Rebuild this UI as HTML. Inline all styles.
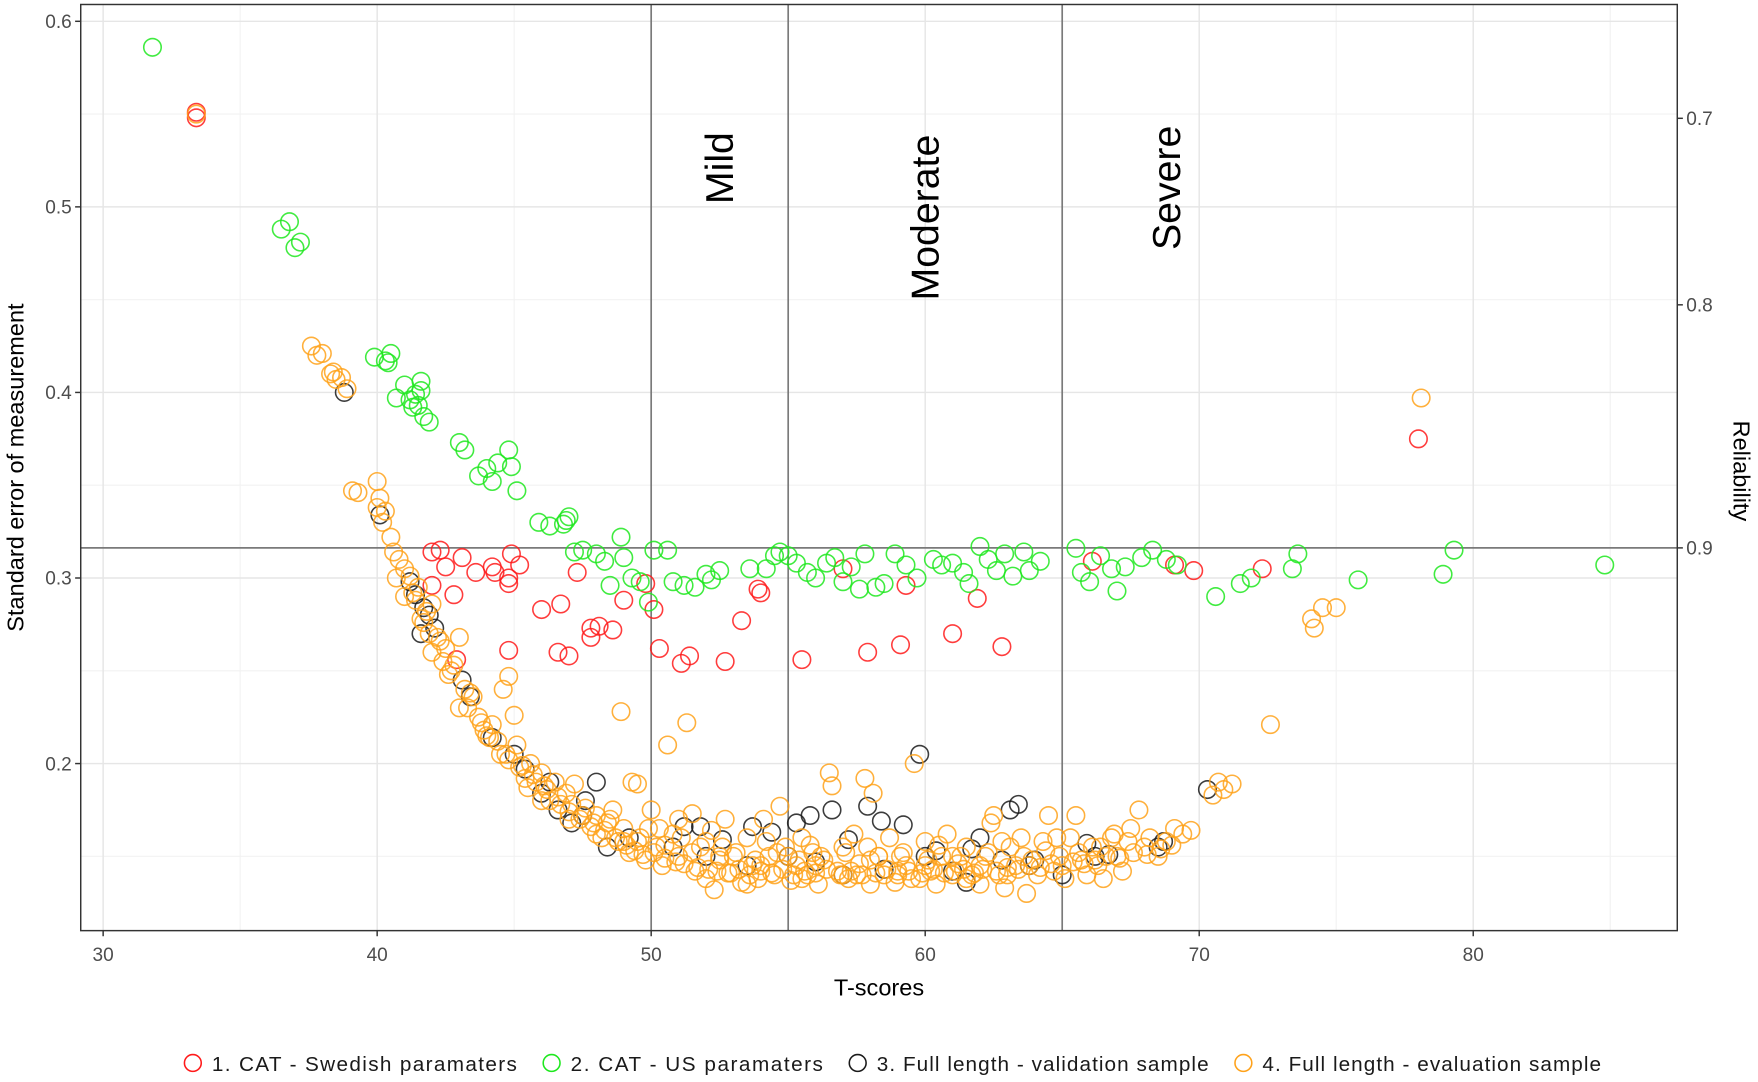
<!DOCTYPE html>
<html><head><meta charset="utf-8"><style>
html,body{margin:0;padding:0;background:#fff;}
svg{display:block;font-family:"Liberation Sans",Arial,sans-serif;}
</style></head><body>
<svg id="chart" width="1758" height="1082" viewBox="0 0 1568 965" preserveAspectRatio="none" xmlns="http://www.w3.org/2000/svg">
<rect x="0" y="0" width="1568" height="965" fill="#fff"/>
<g id="grid"></g>
<g id="refs"></g>
<g id="pts"></g>
<g id="axes"></g>
</svg>
<script>
const xTicks=[30,40,50,60,70,80];
const xMinor=[35,45,55,65,75,85];
const yTicks=[0.2,0.3,0.4,0.5,0.6];
const yMinor=[0.15,0.25,0.35,0.45,0.55];
const relTicks=[0.7,0.8,0.9];
const severityCuts=[50,55,65];
const severityNames=["Mild","Moderate","Severe"];
const severityPos=[52.5,60,68.8];
const relLine=0.9;
const redX=[33.4,33.4,42.0,42.3,42.5,42.0,42.8,43.1,43.6,44.2,44.3,44.8,44.9,45.2,44.8,42.9,44.8,46.0,46.7,46.6,47.0,47.3,47.8,47.8,48.1,48.6,49.0,49.8,50.1,50.3,51.1,51.4,52.7,53.3,53.9,54.0,55.5,57.0,57.9,59.1,59.3,61.0,61.9,62.8,66.1,69.1,69.8,72.3,78.0];
const redY=[0.548,0.551,0.314,0.315,0.306,0.296,0.291,0.311,0.303,0.306,0.303,0.300,0.313,0.307,0.297,0.256,0.261,0.283,0.286,0.260,0.258,0.303,0.273,0.268,0.274,0.272,0.288,0.297,0.283,0.262,0.254,0.258,0.255,0.277,0.294,0.292,0.256,0.305,0.260,0.264,0.296,0.270,0.289,0.263,0.309,0.307,0.304,0.305,0.375];
const greenX=[31.8,36.5,36.8,37.0,37.2,39.9,40.3,40.5,40.4,40.7,41.0,41.2,41.4,41.5,41.6,41.7,41.6,41.9,41.3,43.0,43.2,43.7,44.0,44.2,44.4,44.8,44.9,45.1,45.9,46.3,46.8,47.0,46.9,47.2,47.5,48.0,48.3,48.5,48.9,49.0,49.3,49.6,49.9,50.1,50.6,50.8,51.2,51.6,52.0,52.2,52.5,53.6,54.2,54.5,54.7,55.0,55.3,55.7,56.0,56.4,56.7,57.0,57.3,57.6,57.8,58.2,58.5,58.9,59.3,59.7,60.3,60.6,61.0,61.4,61.6,62.0,62.3,62.6,62.9,63.2,63.6,63.8,64.2,65.5,65.7,66.0,66.4,66.8,67.0,67.3,67.9,68.3,68.8,69.2,70.6,71.5,71.9,73.4,73.6,75.8,78.9,79.3,84.8];
const greenY=[0.586,0.488,0.492,0.478,0.481,0.419,0.417,0.421,0.416,0.397,0.404,0.396,0.399,0.393,0.406,0.387,0.401,0.384,0.392,0.373,0.369,0.355,0.359,0.352,0.362,0.369,0.360,0.347,0.330,0.328,0.329,0.333,0.331,0.314,0.315,0.313,0.309,0.296,0.322,0.311,0.300,0.298,0.287,0.315,0.315,0.298,0.296,0.295,0.302,0.299,0.304,0.305,0.305,0.312,0.314,0.312,0.308,0.303,0.300,0.308,0.311,0.298,0.306,0.294,0.313,0.295,0.297,0.313,0.307,0.300,0.310,0.307,0.308,0.303,0.297,0.317,0.310,0.304,0.313,0.301,0.314,0.304,0.309,0.316,0.303,0.298,0.312,0.305,0.293,0.306,0.311,0.315,0.310,0.307,0.290,0.297,0.300,0.305,0.313,0.299,0.302,0.315,0.307];
const blackX=[38.8,40.1,41.2,41.4,41.7,41.9,42.1,41.6,43.1,43.4,44.2,45.4,46.0,46.6,47.1,47.6,48.0,48.4,50.8,51.2,51.8,52.6,53.7,54.4,55.3,55.8,56.6,57.2,57.9,58.4,59.2,59.8,60.4,61.5,61.7,62.0,62.8,63.1,63.4,64.0,65.0,65.9,66.7,68.7,70.3,56.0,58.5,60.0,45.0,46.3,47.5,49.2,52.0,53.5,55.0,57.0,61.0,63.8,66.2,68.5];
const blackY=[0.400,0.334,0.298,0.291,0.284,0.280,0.273,0.270,0.245,0.236,0.214,0.197,0.184,0.175,0.168,0.180,0.190,0.155,0.155,0.166,0.166,0.159,0.166,0.163,0.168,0.172,0.175,0.159,0.177,0.169,0.167,0.205,0.153,0.136,0.154,0.160,0.148,0.175,0.178,0.148,0.140,0.157,0.151,0.158,0.186,0.147,0.143,0.150,0.205,0.190,0.172,0.160,0.150,0.145,0.150,0.140,0.142,0.145,0.150,0.155];
const orangeX=[33.4,37.6,37.8,38.0,38.3,38.5,38.4,38.7,38.9,39.1,39.3,40.0,40.1,40.0,40.3,40.2,40.5,40.6,40.8,41.0,40.7,41.2,41.5,41.4,41.6,41.8,42.0,41.9,42.2,42.5,42.4,42.8,42.6,43.0,43.2,43.3,43.5,43.7,43.9,44.2,44.4,44.6,44.8,44.5,44.8,45.0,45.1,45.2,45.4,45.6,45.8,46.0,46.2,46.3,46.5,46.7,46.9,47.0,47.2,47.4,47.6,47.8,48.0,48.2,48.4,48.6,48.8,48.9,49.0,49.2,49.3,49.5,49.6,49.8,50.0,50.2,50.4,50.6,50.8,51.0,51.3,51.5,51.6,51.8,52.0,52.2,52.3,52.5,52.7,52.9,53.1,53.3,53.5,53.7,53.9,54.1,54.3,54.5,54.7,54.9,55.1,55.3,55.5,55.7,55.9,56.1,56.3,56.5,56.6,56.8,57.0,57.2,57.4,57.6,57.8,58.0,58.1,58.3,58.5,58.7,58.9,59.1,59.3,59.6,59.8,60.0,60.2,60.4,60.6,60.8,61.0,61.2,61.5,61.7,62.0,62.2,62.4,62.5,62.7,62.9,63.1,63.3,63.5,63.7,63.9,64.1,64.3,64.5,64.7,64.9,65.1,65.3,65.5,65.7,65.9,66.1,66.3,66.5,66.8,67.0,67.2,67.5,67.8,68.0,68.2,68.5,68.8,69.1,69.4,69.7,70.5,70.7,70.9,71.2,72.6,74.1,74.2,74.5,75.0,78.1,50.3,51.0,52.0,53.0,54.0,55.0,56.0,57.0,58.0,59.0,60.0,61.0,62.0,53.5,55.5,57.5,59.5,61.5,63.0,49.0,48.0,47.0,46.0,45.5,44.0,43.0,42.0,41.0,
41.3,41.7,42.3,42.7,43.4,43.8,44.1,44.7,45.3,45.7,46.1,46.6,47.1,47.5,47.9,48.3,48.7,49.1,49.4,49.7,50.1,50.5,50.9,51.2,51.7,52.1,52.4,52.8,53.2,53.6,54.0,54.4,54.8,55.2,55.6,56.0,56.4,56.9,57.3,57.7,58.2,58.6,59.0,59.4,59.9,60.3,60.7,61.1,61.4,61.8,62.1,62.6,63.0,63.4,63.8,64.2,64.6,65.0,65.4,65.8,66.2,66.6,67.1,67.6,68.1,68.6,69.0,
49.5,50.5,51.5,52.5,53.8,54.6,55.4,56.2,57.1,58.3,59.2,60.1,61.3,62.3,63.6,64.4,65.6,66.4,67.4,
48.5,49.9,51.1,52.6,54.2,55.8,57.9,60.5,62.8,64.8,66.9];
const orangeY=[0.550,0.425,0.420,0.421,0.410,0.407,0.411,0.408,0.402,0.347,0.346,0.352,0.343,0.338,0.336,0.330,0.322,0.314,0.310,0.305,0.300,0.301,0.295,0.288,0.278,0.282,0.286,0.270,0.268,0.262,0.255,0.253,0.248,0.268,0.240,0.230,0.236,0.225,0.218,0.221,0.212,0.240,0.247,0.205,0.202,0.226,0.210,0.198,0.192,0.200,0.190,0.195,0.186,0.180,0.190,0.178,0.184,0.174,0.189,0.170,0.176,0.166,0.172,0.160,0.168,0.175,0.158,0.228,0.165,0.152,0.190,0.189,0.160,0.148,0.175,0.155,0.145,0.210,0.162,0.150,0.222,0.173,0.142,0.155,0.138,0.164,0.132,0.148,0.170,0.141,0.152,0.136,0.160,0.145,0.138,0.170,0.150,0.140,0.177,0.155,0.137,0.145,0.160,0.140,0.152,0.135,0.148,0.195,0.188,0.142,0.155,0.138,0.162,0.146,0.192,0.135,0.184,0.150,0.140,0.160,0.136,0.150,0.145,0.200,0.138,0.158,0.142,0.135,0.150,0.162,0.140,0.146,0.155,0.140,0.135,0.150,0.168,0.172,0.140,0.133,0.155,0.145,0.160,0.130,0.148,0.140,0.158,0.172,0.142,0.150,0.138,0.160,0.172,0.148,0.140,0.155,0.145,0.138,0.160,0.150,0.142,0.165,0.175,0.155,0.160,0.150,0.158,0.165,0.162,0.164,0.183,0.190,0.186,0.189,0.221,0.278,0.273,0.284,0.284,0.397,0.165,0.170,0.158,0.150,0.145,0.150,0.145,0.140,0.148,0.142,0.145,0.150,0.145,0.135,0.138,0.140,0.138,0.138,0.140,0.158,0.162,0.170,0.180,0.187,0.215,0.230,0.260,0.290,
0.292,0.276,0.266,0.250,0.238,0.222,0.214,0.205,0.199,0.194,0.188,0.182,0.178,0.172,0.168,0.164,0.160,0.156,0.153,0.151,0.152,0.149,0.147,0.146,0.144,0.143,0.142,0.141,0.143,0.140,0.142,0.141,0.143,0.140,0.142,0.141,0.143,0.140,0.142,0.140,0.141,0.143,0.140,0.142,0.141,0.143,0.141,0.142,0.143,0.141,0.143,0.142,0.144,0.143,0.145,0.144,0.146,0.145,0.147,0.146,0.148,0.150,0.149,0.152,0.151,0.154,0.156,
0.158,0.156,0.152,0.150,0.148,0.152,0.148,0.150,0.152,0.150,0.152,0.148,0.150,0.152,0.150,0.153,0.152,0.155,0.158,
0.170,0.165,0.160,0.155,0.158,0.156,0.155,0.156,0.158,0.160,0.162];

const PL=72,PR=1496,PT=4,PB=830;
function sx(t){return 92+(t-30)*24.44;}
function sy(v){return 19+(0.6-v)*1655;}
const NS="http://www.w3.org/2000/svg";
function mk(tag,attrs,parent){const e=document.createElementNS(NS,tag);for(const k in attrs)e.setAttribute(k,attrs[k]);parent.appendChild(e);return e;}
const grid=document.getElementById('grid'),refs=document.getElementById('refs'),pts=document.getElementById('pts'),axes=document.getElementById('axes');
xMinor.forEach(t=>{const l=mk('line',{x1:sx(t),x2:sx(t),y1:PT,y2:PB,stroke:'#f2f2f2','stroke-width':1},grid);});
yMinor.forEach(v=>{const l=mk('line',{x1:PL,x2:PR,y1:sy(v),y2:sy(v),stroke:'#f2f2f2','stroke-width':1},grid);});
xTicks.forEach(t=>{const l=mk('line',{x1:sx(t),x2:sx(t),y1:PT,y2:PB,stroke:'#e6e6e6','stroke-width':1.3},grid);});
yTicks.forEach(v=>{const l=mk('line',{x1:PL,x2:PR,y1:sy(v),y2:sy(v),stroke:'#e6e6e6','stroke-width':1.3},grid);});
severityCuts.forEach(t=>{const l=mk('line',{x1:sx(t),x2:sx(t),y1:PT,y2:PB,stroke:'#7a7a7a','stroke-width':1.5},refs);});
const relY=sy(Math.sqrt(1-relLine));
const hl=mk('line',{x1:PL,x2:PR,y1:relY,y2:relY,stroke:'#7a7a7a','stroke-width':1.5},refs);


const labTop=[182,268,223];
severityNames.forEach((s,i)=>{const x=sx(severityPos[i])+12;const tx=mk('text',{x:0,y:0,transform:`translate(${x},${labTop[i]}) rotate(-90)`,'font-size':35,fill:'#000'},refs);tx.textContent=s;});
const series=[[redX,redY,'#ff1a1a','cat-swedish'],[greenX,greenY,'#1ee81e','cat-us'],[blackX,blackY,'#1a1a1a','full-validation'],[orangeX,orangeY,'#ffa21a','full-evaluation']];
series.forEach(([xs,ys,c,n])=>{xs.forEach((t,i)=>{const p=mk('circle',{cx:sx(t),cy:sy(ys[i]),r:7.8,fill:'none',stroke:c,'stroke-width':1.4,'stroke-opacity':0.85},pts);});});
const fr=mk('rect',{x:PL,y:PT,width:PR-PL,height:PB-PT,fill:'none',stroke:'#333','stroke-width':1.3},axes);


xTicks.forEach(t=>{mk('line',{x1:sx(t),x2:sx(t),y1:PB,y2:PB+5,stroke:'#333','stroke-width':1.3},axes);const tx=mk('text',{x:sx(t),y:PB+27,'text-anchor':'middle','font-size':17,fill:'#4d4d4d'},axes);tx.textContent=t;});
yTicks.forEach(v=>{mk('line',{x1:PL-5,x2:PL,y1:sy(v),y2:sy(v),stroke:'#333','stroke-width':1.3},axes);const tx=mk('text',{x:PL-8,y:sy(v)+6,'text-anchor':'end','font-size':17,fill:'#4d4d4d'},axes);tx.textContent=v.toFixed(1);});
relTicks.forEach(r=>{const y=sy(Math.sqrt(1-r));mk('line',{x1:PR,x2:PR+5,y1:y,y2:y,stroke:'#333','stroke-width':1.3},axes);const tx=mk('text',{x:PR+8,y:y+6,'font-size':17,fill:'#4d4d4d'},axes);tx.textContent=r.toFixed(1);});
</script>
<div style="position:absolute;left:0;top:0;width:1758px;height:1082px;pointer-events:none;">
<svg width="1758" height="1082" viewBox="0 0 1568 965" preserveAspectRatio="none" style="position:absolute;left:0;top:0" xmlns="http://www.w3.org/2000/svg">
<text x="784" y="888" text-anchor="middle" font-size="21" fill="#000" font-family="Liberation Sans, sans-serif">T-scores</text>
<text transform="translate(21,417) rotate(-90)" text-anchor="middle" font-size="21" fill="#000" font-family="Liberation Sans, sans-serif">Standard error of measurement</text>
<text transform="translate(1546,420) rotate(90)" text-anchor="middle" font-size="21" fill="#000" font-family="Liberation Sans, sans-serif">Reliability</text>
<g font-family="Liberation Sans, sans-serif" font-size="18.5" fill="#1a1a1a">
<g><circle cx="172" cy="948" r="7.5" fill="none" stroke="#ff1a1a" stroke-width="1.4"/><text x="189" y="955" textLength="272">1. CAT - Swedish paramaters</text></g>
<g><circle cx="492" cy="948" r="7.5" fill="none" stroke="#1ee81e" stroke-width="1.4"/><text x="509" y="955" textLength="225">2. CAT - US paramaters</text></g>
<g><circle cx="765" cy="948" r="7.5" fill="none" stroke="#1a1a1a" stroke-width="1.4"/><text x="782" y="955" textLength="296">3. Full length - validation sample</text></g>
<g><circle cx="1109" cy="948" r="7.5" fill="none" stroke="#ffa21a" stroke-width="1.4"/><text x="1126" y="955" textLength="302">4. Full length - evaluation sample</text></g>
</g>
</svg>
</div>
</body></html>
